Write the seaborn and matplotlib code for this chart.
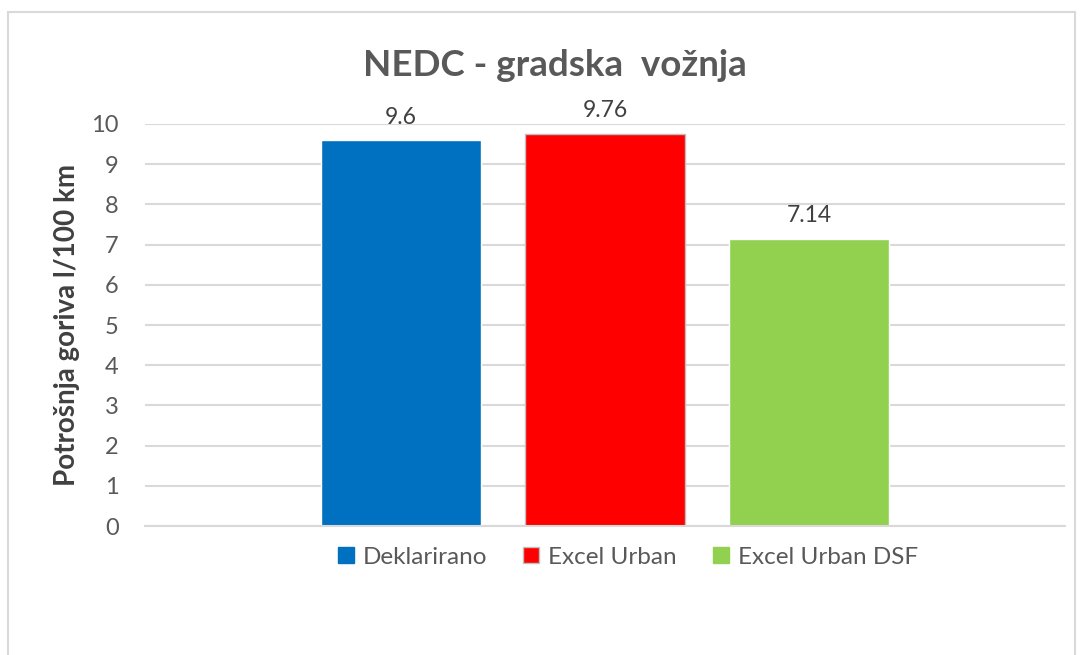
import matplotlib.pyplot as plt
import seaborn as sns
import numpy as np
from matplotlib.lines import Line2D
from matplotlib.patches import Rectangle

series = ["Deklarirano", "Excel Urban", "Excel Urban DSF"]
values = [9.6, 9.76, 7.14]
labels = ["9.6", "9.76", "7.14"]
colors = ["#0070C0", "#FF0000", "#92D050"]
yticks = list(range(0, 11))

sns.set_style("white")
plt.rcParams['font.family'] = ['Lato', 'DejaVu Sans']
txt = "#595959"

fig = plt.figure(figsize=(10.83, 6.55), dpi=100)
ax = fig.add_axes([0.1339, 0.1969, 0.8495, 0.6138])

sns.barplot(x=series, y=values, hue=series, palette=colors, width=0.784,
            legend=False, ax=ax, saturation=1)
for i, p in enumerate(ax.patches):
    if i == 1:
        p.set_edgecolor("#BFBFBF")
        p.set_linewidth(1)
    ax.annotate(labels[i], (p.get_x() + p.get_width() / 2, values[i]),
                xytext=(0, 9), textcoords="offset points", ha="center",
                va="bottom", fontsize=16.5, color="#404040")

ax.set_xlim(-1.255, 3.255)
ax.set_ylim(0, 10)
ax.set_yticks(yticks)
ax.set_xticks([])
ax.yaxis.grid(True, color="#D9D9D9", linewidth=1.5)
ax.set_axisbelow(True)
for s in ["left", "right", "top"]:
    ax.spines[s].set_visible(False)
ax.spines["bottom"].set_color("#D9D9D9")
ax.spines["bottom"].set_linewidth(1.5)
ax.tick_params(axis="y", length=0, labelsize=17, labelcolor=txt, pad=19)
ax.set_ylabel("Potrošnja goriva l/100 km", fontsize=20, fontweight="bold",
              color="#404040", labelpad=8)

fig.text(0.512, 0.9, "NEDC - gradska  vožnja", ha="center", va="center",
         fontsize=26.5, fontweight="bold", color=txt)

handles = [Line2D([0], [0], marker="s", linestyle="", markersize=11,
                  markerfacecolor=c,
                  markeredgecolor="#BFBFBF" if c == "#FF0000" else c)
           for c in colors]
fig.legend(handles, series, loc="center", bbox_to_anchor=(0.578, 0.149),
           ncol=3, frameon=False, fontsize=17.5, labelcolor=txt,
           handletextpad=0.2, columnspacing=1.3, handlelength=1)

fig.patches.append(Rectangle((8 / 1083, -0.01), 1067 / 1083, 1 - 12 / 655 + 0.01,
                             transform=fig.transFigure, fill=False,
                             edgecolor="#D9D9D9", linewidth=1.5))

fig.savefig("out.png", dpi=100)
